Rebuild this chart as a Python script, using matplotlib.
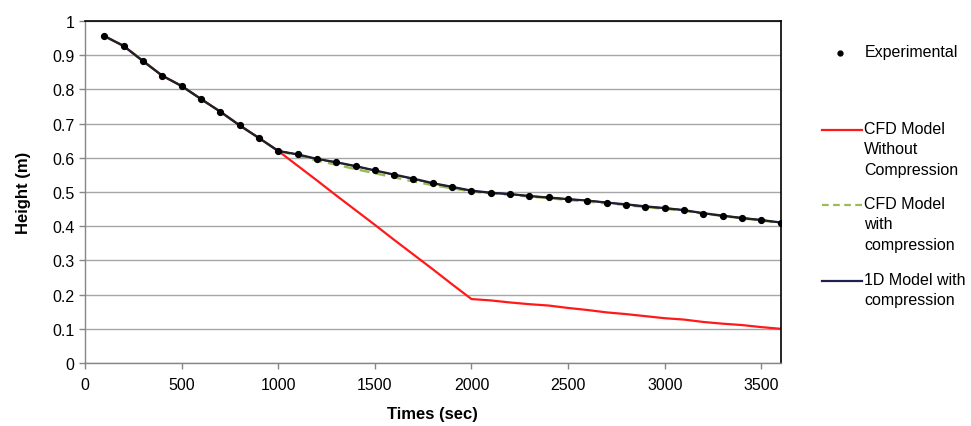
import numpy as np
import matplotlib
matplotlib.use("Agg")
import matplotlib.pyplot as plt
from matplotlib.lines import Line2D

plt.rcParams['font.family'] = ['Liberation Sans Narrow', 'Liberation Sans', 'DejaVu Sans']

# time (sec)
times = [100, 200, 300, 400, 500, 600, 700, 800, 900, 1000,
         1100, 1200, 1300, 1400, 1500, 1600, 1700, 1800, 1900, 2000,
         2100, 2200, 2300, 2400, 2500, 2600, 2700, 2800, 2900, 3000,
         3100, 3200, 3300, 3400, 3500, 3600]

experimental = [0.956, 0.927, 0.883, 0.840, 0.810, 0.772, 0.735, 0.695, 0.658, 0.620,
                0.610, 0.596, 0.587, 0.575, 0.563, 0.550, 0.538, 0.525, 0.515, 0.503,
                0.497, 0.494, 0.488, 0.484, 0.479, 0.475, 0.469, 0.463, 0.457, 0.453,
                0.447, 0.437, 0.430, 0.424, 0.418, 0.410]

cfd_no_comp = [0.956, 0.927, 0.883, 0.840, 0.810, 0.772, 0.735, 0.695, 0.658, 0.620,
               0.577, 0.534, 0.490, 0.447, 0.404, 0.360, 0.317, 0.274, 0.230, 0.187,
               0.183, 0.177, 0.172, 0.168, 0.161, 0.155, 0.148, 0.143, 0.137, 0.131,
               0.127, 0.120, 0.115, 0.111, 0.105, 0.100]

cfd_comp = [0.956, 0.927, 0.883, 0.840, 0.810, 0.772, 0.735, 0.695, 0.658, 0.620,
            0.607, 0.592, 0.580, 0.567, 0.555, 0.543, 0.531, 0.520, 0.511, 0.502,
            0.496, 0.492, 0.487, 0.482, 0.477, 0.472, 0.467, 0.462, 0.456, 0.451,
            0.445, 0.437, 0.430, 0.423, 0.417, 0.409]

model_1d = [0.956, 0.927, 0.883, 0.840, 0.810, 0.772, 0.735, 0.695, 0.658, 0.620,
            0.610, 0.597, 0.587, 0.576, 0.563, 0.551, 0.539, 0.526, 0.515, 0.504,
            0.498, 0.494, 0.488, 0.484, 0.479, 0.475, 0.469, 0.464, 0.458, 0.453,
            0.447, 0.438, 0.431, 0.424, 0.418, 0.411]

xticks = [0, 500, 1000, 1500, 2000, 2500, 3000, 3500]
yticks = [0, 0.1, 0.2, 0.3, 0.4, 0.5, 0.6, 0.7, 0.8, 0.9, 1]
ytick_labels = ['0', '0.1', '0.2', '0.3', '0.4', '0.5', '0.6', '0.7', '0.8', '0.9', '1']

red = '#ff1a1a'
green = '#9bbb59'
navy = '#1f1f50'

fig = plt.figure(figsize=(9.71, 4.27), dpi=100)
ax = fig.add_axes([0.0875, 0.1475, 0.7165, 0.801])

ax.plot(times, cfd_no_comp, color=red, lw=1.6, zorder=2)
ax.plot(times, cfd_comp, color=green, lw=1.8, ls=(0, (4, 2.5)), zorder=3)
ax.plot(times, model_1d, color=navy, lw=1.6, zorder=4)
ax.plot(times, experimental, color='#222222', lw=1.2, zorder=4.5)
ax.plot(times, experimental, 'o', color='black', ms=4.2, zorder=5)

ax.set_xlim(0, 3600)
ax.set_ylim(0, 1)
ax.set_xticks(xticks)
ax.set_yticks(yticks)
ax.set_yticklabels(ytick_labels)
ax.grid(axis='y', color='#a6a6a6', lw=1)
ax.set_axisbelow(True)
ax.tick_params(labelsize=11.5, length=4, color='#868686', width=1)
ax.tick_params(axis='x', pad=6)

for side in ['top', 'right']:
    ax.spines[side].set_color('black')
    ax.spines[side].set_linewidth(1.2)
for side in ['left', 'bottom']:
    ax.spines[side].set_color('#868686')
    ax.spines[side].set_linewidth(1)

ax.set_xlabel('Times (sec)', fontsize=12, fontweight='bold', labelpad=10,
              family=['Liberation Sans', 'DejaVu Sans'])
ax.set_ylabel('Height (m)', fontsize=12, fontweight='bold', labelpad=15,
              family=['Liberation Sans', 'DejaVu Sans'])

# legend drawn at the right, Excel style
W, H = 971.0, 427.0
lg_font = dict(fontsize=11.5, family=['Liberation Sans', 'DejaVu Sans'], va='top', ha='left')
fig.add_artist(Line2D([840 / W], [1 - 54 / H], marker='o', ms=3.5, color='black',
                      transform=fig.transFigure))
fig.text(865 / W, 1 - 45 / H, 'Experimental', **lg_font)

entries = [(131, red, '-', 'CFD Model\nWithout\nCompression'),
           (206, green, (0, (3, 2)), 'CFD Model\nwith\ncompression'),
           (282, navy, '-', '1D Model with\ncompression')]
for ypx, col, ls, txt in entries:
    yf = 1 - ypx / H
    fig.add_artist(Line2D([822 / W, 862 / W], [yf, yf], color=col, ls=ls, lw=1.6,
                          transform=fig.transFigure))
    fig.text(864 / W, yf + 9 / H, txt, linespacing=1.45, **lg_font)

fig.savefig('out.png', dpi=100)
